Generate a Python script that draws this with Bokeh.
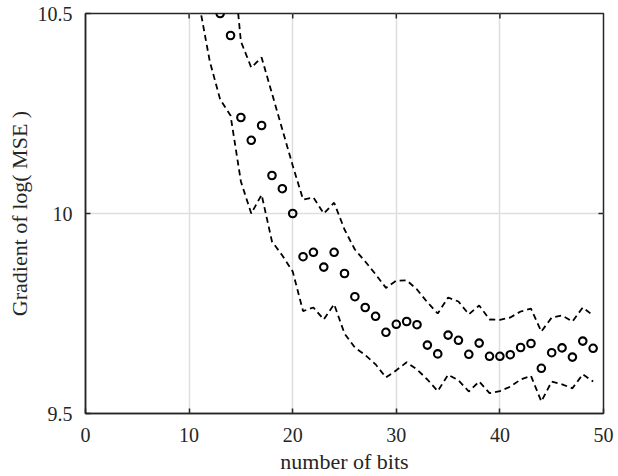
import math
from bokeh.plotting import figure
from bokeh.models import Range1d, FixedTicker
from bokeh.embed import file_html
from bokeh.resources import INLINE

# ---- data ----
mean_x = list(range(13, 50))
mean_y = [10.50, 10.445, 10.24, 10.183, 10.22, 10.095, 10.062, 10.00, 9.892, 9.903,
          9.866, 9.903, 9.850, 9.792, 9.765, 9.743, 9.703, 9.723, 9.730, 9.722,
          9.671, 9.649, 9.696, 9.683, 9.648, 9.676, 9.643, 9.643, 9.647, 9.665,
          9.675, 9.613, 9.652, 9.664, 9.641, 9.681, 9.663]

upper_x = list(range(14, 50))
upper_y = [10.70, 10.43, 10.365, 10.39, 10.30, 10.21, 10.12, 10.035, 10.04, 10.0,
           10.027, 9.96, 9.91, 9.88, 9.848, 9.814, 9.832, 9.833, 9.81, 9.778,
           9.75, 9.79, 9.78, 9.748, 9.77, 9.735, 9.734, 9.74, 9.755, 9.762,
           9.705, 9.74, 9.745, 9.73, 9.765, 9.745]

lower_x = list(range(11, 50))
lower_y = [10.52, 10.38, 10.285, 10.245, 10.08, 10.0, 10.047, 9.93, 9.895, 9.855,
           9.756, 9.765, 9.735, 9.773, 9.70, 9.665, 9.646, 9.623, 9.59, 9.608,
           9.628, 9.61, 9.585, 9.556, 9.597, 9.583, 9.555, 9.58, 9.551, 9.556,
           9.567, 9.585, 9.594, 9.53, 9.58, 9.573, 9.563, 9.598, 9.58]

x_ticks = [0, 10, 20, 30, 40, 50]
y_ticks = [9.5, 10, 10.5]
y_tick_labels = {9.5: "9.5", 10: "10", 10.5: "10.5"}

FONT = "Liberation Serif"
AX = "#262626"
X0, X1 = 0, 50
Y0, Y1 = 9.5, 10.5

p = figure(width=618, height=476, output_backend="svg", toolbar_location=None,
           x_range=Range1d(X0, X1), y_range=Range1d(Y0, Y1),
           min_border_left=85, min_border_right=15, min_border_top=13, min_border_bottom=61)
p.outline_line_color = AX
p.outline_line_width = 1.5
p.background_fill_color = "white"
p.border_fill_color = "white"

p.xaxis.ticker = FixedTicker(ticks=x_ticks)
p.yaxis.ticker = FixedTicker(ticks=y_ticks)
p.yaxis.major_label_overrides = y_tick_labels
p.xaxis.axis_label = "number of bits"
p.yaxis.axis_label = "Gradient of log( MSE )"

for ax in [p.xaxis[0], p.yaxis[0]]:
    ax.axis_line_color = AX
    ax.axis_line_width = 1.5
    ax.major_tick_in = 5
    ax.major_tick_out = 0
    ax.major_tick_line_color = AX
    ax.major_tick_line_width = 1.5
    ax.minor_tick_line_color = None
    ax.major_label_text_font = FONT
    ax.major_label_text_font_size = "20px"
    ax.major_label_text_color = AX
    ax.axis_label_text_font = FONT
    ax.axis_label_text_font_size = "22px"
    ax.axis_label_text_font_style = "normal"
    ax.axis_label_text_color = AX

p.xaxis.major_label_standoff = 14
p.xaxis.axis_label_standoff = 4
p.yaxis.major_label_standoff = 13
p.yaxis.axis_label_standoff = 3

p.xgrid.grid_line_color = "#dedede"
p.ygrid.grid_line_color = "#dedede"
p.xgrid.grid_line_width = 1.5
p.ygrid.grid_line_width = 1.5

# mirrored inward ticks on the top and right edges
p.ray(x=x_ticks[1:-1], y=[Y1] * (len(x_ticks) - 2), length=5, length_units="screen",
      angle=-math.pi / 2, line_color=AX, line_width=1.5)
p.ray(x=[X1], y=[10], length=5, length_units="screen", angle=math.pi,
      line_color=AX, line_width=1.5)

p.line(upper_x, upper_y, line_color="black", line_width=1.8, line_dash="6 4")
p.line(lower_x, lower_y, line_color="black", line_width=1.8, line_dash="6 4")
p.scatter(mean_x, mean_y, marker="circle", size=7.5, fill_color=None,
          line_color="black", line_width=2.1)

open("out.html", "w").write(file_html(p, INLINE))
